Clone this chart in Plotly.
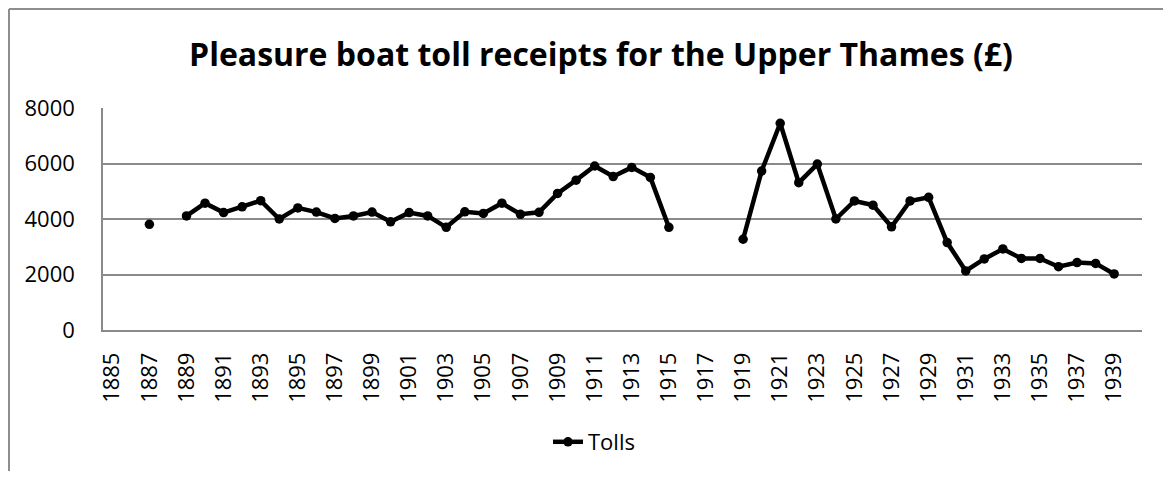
import plotly.graph_objects as go

# ---- data ----
years = list(range(1885, 1941))
tolls = [
    None, None, 3810, None, 4110, 4570, 4230, 4440, 4660, 4000,   # 1885-1894
    4400, 4250, 4020, 4110, 4250, 3900, 4230, 4110, 3700, 4260,   # 1895-1904
    4200, 4570, 4170, 4240, 4920, 5400, 5910, 5530, 5860, 5500,   # 1905-1914
    3700, None, None, None, 3270, 5730, 7450, 5310, 5980, 4000,   # 1915-1924
    4650, 4500, 3720, 4650, 4780, 3150, 2130, 2560, 2920, 2580,   # 1925-1934
    2580, 2280, 2430, 2400, 2020, None,                           # 1935-1940
]
tick_years = years[::2]
y_ticks = [0, 2000, 4000, 6000, 8000]

TITLE = "Pleasure boat toll receipts for the Upper Thames (£)"
FONT = "Open Sans, Noto Sans, sans-serif"
GRID = "#8a8a8a"
BORDER = "#8e8e8e"

# the page body has an 8px margin, so everything is placed 8px up/left
OFF = 8
W, H = 1171 - OFF, 479 - 2 * OFF
L, R, T, B = 103 - OFF, 1142 - OFF, 108 - OFF, 330 - OFF


def px_x(p):
    return (p - OFF - L) / (R - L)


def px_y(p):
    return (B - (p - OFF)) / (B - T)


# outer chart frame (screen pixels): left, right, top, bottom
fl, fr, ft, fb = 9, 1169, 9, 520
frame = [
    dict(x0=fl, x1=fr, y0=ft, y1=ft),
    dict(x0=fl, x1=fl, y0=ft, y1=fb),
    dict(x0=fr, x1=fr, y0=ft, y1=fb),
]
shapes = [dict(type='line', xref='paper', yref='paper',
               x0=px_x(s['x0']), x1=px_x(s['x1']),
               y0=px_y(s['y0']), y1=px_y(s['y1']),
               line=dict(color=BORDER, width=2))
          for s in frame]

fig = go.Figure()

fig.add_trace(go.Scatter(
    x=years,
    y=tolls,
    mode='lines+markers',
    name='Tolls',
    line=dict(color='black', width=4.5),
    marker=dict(color='black', size=9.5),
    connectgaps=False,
))

fig.update_layout(
    width=W,
    height=H,
    margin=dict(l=L, r=W - R, t=T, b=H - B, pad=0, autoexpand=False),
    paper_bgcolor='white',
    plot_bgcolor='white',
    font=dict(family=FONT, size=22, color='black'),
    title=dict(
        text=TITLE,
        font=dict(family=FONT, size=32, color='black', weight='bold'),
        x=(601 - OFF) / W, xref='container', xanchor='center',
        y=1 - (55 - OFF) / H, yref='container', yanchor='middle',
    ),
    showlegend=True,
    legend=dict(
        orientation='h',
        x=px_x(594), y=px_y(442),
        xanchor='center', yanchor='middle',
        font=dict(family=FONT, size=22),
    ),
    shapes=shapes,
)

fig.update_xaxes(
    range=[1884.5, 1940.5],
    tickvals=tick_years,
    ticktext=[str(y) for y in tick_years],
    tickangle=-90,
    showgrid=False,
    zeroline=False,
    showline=True,
    linecolor=GRID,
    linewidth=1.5,
    ticks='',
    ticklabelstandoff=12,
)

fig.update_yaxes(
    range=[0, 8000],
    tickvals=y_ticks,
    showgrid=True,
    gridcolor=GRID,
    gridwidth=1.5,
    zeroline=False,
    showline=True,
    linecolor=GRID,
    linewidth=1.5,
    ticks='',
    ticklabelstandoff=22,
)

fig.write_html("out.html")
